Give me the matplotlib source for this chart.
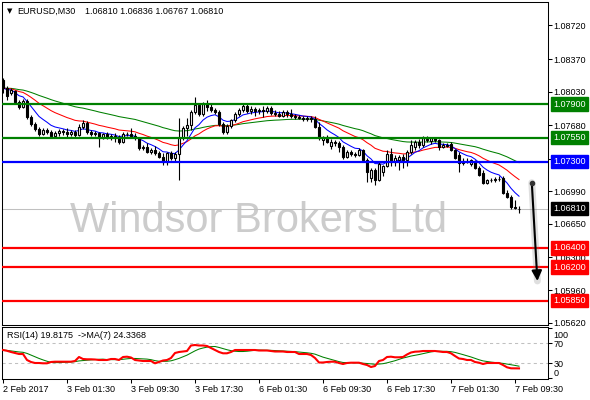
import numpy as np
import pandas as pd
import matplotlib
matplotlib.use('Agg')
import matplotlib.pyplot as plt
import matplotlib.transforms as mtransforms

plt.rcParams['font.family'] = ['Liberation Sans', 'DejaVu Sans']

FONT_SIZE = 6.5
W, H = 590, 400

# EURUSD M30 candles, 2 Feb 2017 17:30 -> 7 Feb 2017 10:00
open_ = [1.08152, 1.08068, 1.08016, 1.08037, 1.07922, 1.07870, 1.07933, 1.07766, 1.07693, 1.07641,
         1.07588, 1.07630, 1.07609, 1.07568, 1.07599, 1.07620, 1.07609, 1.07588, 1.07609, 1.07578,
         1.07662, 1.07703, 1.07609, 1.07588, 1.07599, 1.07547, 1.07588, 1.07557, 1.07568, 1.07547,
         1.07505, 1.07588, 1.07588, 1.07568, 1.07547, 1.07442, 1.07453, 1.07401, 1.07421, 1.07390,
         1.07348, 1.07296, 1.07390, 1.07338, 1.07380, 1.07547, 1.07651, 1.07682, 1.07818, 1.07891,
         1.07797, 1.07901, 1.07870, 1.07839, 1.07818, 1.07693, 1.07609, 1.07672, 1.07735, 1.07797,
         1.07839, 1.07880, 1.07828, 1.07849, 1.07828, 1.07839, 1.07828, 1.07860, 1.07807, 1.07797,
         1.07776, 1.07818, 1.07797, 1.07776, 1.07766, 1.07755, 1.07745, 1.07755, 1.07745, 1.07662,
         1.07526, 1.07557, 1.07463, 1.07505, 1.07495, 1.07453, 1.07348, 1.07401, 1.07380, 1.07369,
         1.07421, 1.07317, 1.07130, 1.07213, 1.07109, 1.07192, 1.07254, 1.07380, 1.07296, 1.07317,
         1.07348, 1.07317, 1.07401, 1.07453, 1.07505, 1.07474, 1.07536, 1.07515, 1.07547, 1.07526,
         1.07453, 1.07474, 1.07484, 1.07421, 1.07369, 1.07286, 1.07307, 1.07275, 1.07296, 1.07234,
         1.07181, 1.07077, 1.07109, 1.07109, 1.07119, 1.07130, 1.06973, 1.06931, 1.06827, 1.06810]
high = [1.08172, 1.08089, 1.08068, 1.08047, 1.07943, 1.07953, 1.07953, 1.07787, 1.07714, 1.07662,
        1.07651, 1.07651, 1.07630, 1.07620, 1.07641, 1.07641, 1.07651, 1.07630, 1.07630, 1.07693,
        1.07735, 1.07724, 1.07630, 1.07620, 1.07609, 1.07599, 1.07609, 1.07588, 1.07599, 1.07578,
        1.07609, 1.07609, 1.07651, 1.07599, 1.07557, 1.07474, 1.07495, 1.07442, 1.07463, 1.07411,
        1.07390, 1.07401, 1.07411, 1.07401, 1.07755, 1.07672, 1.07755, 1.07839, 1.07974, 1.07912,
        1.07922, 1.07943, 1.07901, 1.07860, 1.07839, 1.07714, 1.07693, 1.07745, 1.07818, 1.07860,
        1.07912, 1.07901, 1.07880, 1.07870, 1.07860, 1.07880, 1.07880, 1.07880, 1.07839, 1.07828,
        1.07839, 1.07839, 1.07849, 1.07797, 1.07787, 1.07776, 1.07776, 1.07776, 1.07776, 1.07714,
        1.07568, 1.07578, 1.07536, 1.07526, 1.07515, 1.07474, 1.07421, 1.07421, 1.07401, 1.07442,
        1.07432, 1.07338, 1.07234, 1.07234, 1.07296, 1.07265, 1.07421, 1.07442, 1.07369, 1.07369,
        1.07380, 1.07421, 1.07526, 1.07526, 1.07536, 1.07568, 1.07568, 1.07557, 1.07557, 1.07536,
        1.07495, 1.07495, 1.07505, 1.07432, 1.07401, 1.07338, 1.07338, 1.07327, 1.07317, 1.07254,
        1.07213, 1.07119, 1.07130, 1.07140, 1.07150, 1.07150, 1.07004, 1.06952, 1.06900, 1.06836]
low = [1.08016, 1.07943, 1.07995, 1.07901, 1.07849, 1.07860, 1.07745, 1.07672, 1.07620, 1.07568,
       1.07578, 1.07588, 1.07547, 1.07557, 1.07568, 1.07578, 1.07557, 1.07568, 1.07557, 1.07568,
       1.07641, 1.07588, 1.07568, 1.07568, 1.07453, 1.07536, 1.07536, 1.07526, 1.07505, 1.07484,
       1.07495, 1.07568, 1.07547, 1.07526, 1.07421, 1.07421, 1.07390, 1.07380, 1.07369, 1.07338,
       1.07265, 1.07265, 1.07317, 1.07296, 1.07109, 1.07526, 1.07568, 1.07630, 1.07797, 1.07776,
       1.07776, 1.07828, 1.07818, 1.07797, 1.07672, 1.07588, 1.07588, 1.07651, 1.07714, 1.07776,
       1.07818, 1.07807, 1.07797, 1.07776, 1.07797, 1.07766, 1.07807, 1.07787, 1.07776, 1.07766,
       1.07766, 1.07766, 1.07755, 1.07745, 1.07745, 1.07724, 1.07724, 1.07714, 1.07651, 1.07526,
       1.07474, 1.07495, 1.07432, 1.07463, 1.07401, 1.07327, 1.07338, 1.07359, 1.07348, 1.07359,
       1.07307, 1.07088, 1.07088, 1.07056, 1.07098, 1.07150, 1.07244, 1.07254, 1.07254, 1.07213,
       1.07234, 1.07254, 1.07380, 1.07421, 1.07442, 1.07453, 1.07505, 1.07484, 1.07505, 1.07421,
       1.07442, 1.07453, 1.07411, 1.07327, 1.07192, 1.07265, 1.07286, 1.07254, 1.07223, 1.07150,
       1.07067, 1.07067, 1.07088, 1.07088, 1.07098, 1.06963, 1.06921, 1.06806, 1.06806, 1.06767]
close = [1.08068, 1.07985, 1.08047, 1.07922, 1.07870, 1.07933, 1.07766, 1.07693, 1.07641, 1.07588,
         1.07630, 1.07609, 1.07568, 1.07599, 1.07620, 1.07609, 1.07588, 1.07609, 1.07578, 1.07662,
         1.07703, 1.07609, 1.07588, 1.07599, 1.07547, 1.07588, 1.07557, 1.07568, 1.07547, 1.07505,
         1.07588, 1.07588, 1.07568, 1.07547, 1.07442, 1.07453, 1.07401, 1.07421, 1.07390, 1.07348,
         1.07296, 1.07390, 1.07338, 1.07380, 1.07547, 1.07651, 1.07682, 1.07818, 1.07891, 1.07797,
         1.07901, 1.07870, 1.07839, 1.07818, 1.07693, 1.07609, 1.07672, 1.07735, 1.07797, 1.07839,
         1.07880, 1.07828, 1.07849, 1.07828, 1.07839, 1.07828, 1.07860, 1.07807, 1.07797, 1.07776,
         1.07818, 1.07797, 1.07776, 1.07766, 1.07755, 1.07745, 1.07755, 1.07745, 1.07662, 1.07547,
         1.07557, 1.07505, 1.07505, 1.07495, 1.07453, 1.07348, 1.07401, 1.07380, 1.07369, 1.07421,
         1.07317, 1.07192, 1.07213, 1.07109, 1.07275, 1.07254, 1.07380, 1.07296, 1.07338, 1.07348,
         1.07317, 1.07401, 1.07474, 1.07505, 1.07474, 1.07547, 1.07526, 1.07547, 1.07526, 1.07453,
         1.07474, 1.07463, 1.07421, 1.07338, 1.07286, 1.07307, 1.07296, 1.07317, 1.07234, 1.07161,
         1.07077, 1.07109, 1.07109, 1.07119, 1.07119, 1.06973, 1.06931, 1.06827, 1.06817, 1.06810]

# RSI(14)
rsi = [56.6, 55.0, 52.6, 50.6, 48.6, 48.6, 36.6, 32.6, 30.6, 30.6,
       30.0, 30.0, 32.6, 33.2, 33.2, 33.2, 33.2, 33.2, 34.6, 42.6,
       38.6, 38.0, 38.0, 37.6, 36.6, 36.6, 36.6, 38.6, 38.6, 36.6,
       42.6, 43.2, 41.6, 36.6, 35.6, 34.6, 34.6, 34.6, 30.0, 32.6,
       35.6, 36.6, 40.6, 50.6, 52.6, 53.6, 54.6, 65.6, 66.6, 65.6,
       65.6, 64.6, 60.6, 56.6, 52.6, 50.0, 50.0, 52.6, 56.6, 56.6,
       56.6, 56.6, 56.6, 56.6, 55.6, 55.6, 55.6, 54.6, 53.6, 53.6,
       53.6, 52.6, 52.6, 52.6, 48.6, 48.6, 48.6, 46.6, 40.6, 31.6,
       31.6, 32.6, 33.2, 33.2, 30.6, 28.6, 30.6, 31.2, 31.2, 31.2,
       28.6, 26.6, 22.6, 24.6, 34.6, 36.6, 42.6, 43.2, 42.0, 42.0,
       42.6, 47.6, 51.6, 53.2, 53.6, 54.6, 54.6, 54.6, 54.6, 53.6,
       52.6, 52.6, 50.0, 44.6, 39.6, 38.6, 36.6, 36.6, 32.6, 31.2,
       28.6, 30.6, 30.6, 30.6, 30.6, 26.6, 22.0, 20.0, 20.0, 19.8175]

time_ticks = [0, 16, 32, 48, 64, 80, 96, 112, 128]
time_labels = ['2 Feb 2017', '3 Feb 01:30', '3 Feb 09:30', '3 Feb 17:30', '6 Feb 01:30',
               '6 Feb 09:30', '6 Feb 17:30', '7 Feb 01:30', '7 Feb 09:30']
price_ticks = [1.08720, 1.08370, 1.08030, 1.07680, 1.07330, 1.06990, 1.06650, 1.06300, 1.05960, 1.05620]

levels = [1.07900, 1.07550, 1.07300, 1.06400, 1.06200, 1.05850]
level_colors = ['#008000', '#008000', '#0000ff', '#ff0000', '#ff0000', '#ff0000']

arrow_start = (132.2, 1.07080)
arrow_end = (133.6, 1.06055)

o = np.array(open_)
h = np.array(high)
l = np.array(low)
c = np.array(close)
x = np.arange(len(c))

cs = pd.Series(c)
ma_fast = cs.ewm(span=8, adjust=False).mean()
ma_mid = cs.ewm(span=21, adjust=False).mean()
ma_slow = cs.ewm(span=50, adjust=False).mean()
rsi_ma = pd.Series(rsi).rolling(7, min_periods=1).mean()


def px_box(left, top, right, bottom):
    return [left / W, 1 - bottom / H, (right - left) / W, (bottom - top) / H]


fig = plt.figure(figsize=(W / 100, H / 100), dpi=100)
fig.patch.set_facecolor('white')
ax = fig.add_axes(px_box(2, 2, 548, 324.5))
rsi_ax = fig.add_axes(px_box(2, 327, 548, 379))

for a in (ax, rsi_ax):
    for s in a.spines.values():
        s.set_linewidth(0.75)
        s.set_color('black')
    a.set_xlim(-0.25, 136.25)

# main price window
ax.set_ylim(1.05601, 1.08965)
ax.text(258.5 / W, 1 - 232 / H, 'Windsor Brokers Ltd', transform=fig.transFigure,
        fontsize=30, color='#cccccc', ha='center', va='baseline', zorder=0.5)
ax.axhline(c[-1], color='#c0c0c0', lw=0.75, zorder=1)

ax.plot(x, ma_slow, color='#008000', lw=0.75, zorder=2)
ax.plot(x, ma_mid, color='#ff0000', lw=0.75, zorder=2)
ax.plot(x, ma_fast, color='#0000ff', lw=0.75, zorder=2)

up = c >= o
ax.vlines(x, l, h, color='black', lw=0.8, zorder=3)
ax.bar(x, c - o, bottom=o, width=0.65, color=np.where(up, 'white', 'black'),
       edgecolor='black', linewidth=0.8, zorder=4)

for lev, col in zip(levels, level_colors):
    ax.axhline(lev, color=col, lw=1.6, zorder=5)

ax.yaxis.tick_right()
ax.set_yticks(price_ticks)
ax.set_yticklabels([f'{p:.5f}' for p in price_ticks], fontsize=FONT_SIZE)
ax.tick_params(axis='y', direction='out', length=3, width=0.75, pad=1)
ax.set_xticks([])

lab_tr = mtransforms.blended_transform_factory(ax.transAxes, ax.transData)
for lev, col in zip(levels + [c[-1]], level_colors + ['black']):
    ax.text(1.0097, lev, f'{lev:.5f}', transform=lab_tr, color='white', fontsize=FONT_SIZE,
            ha='left', va='center', clip_on=False, zorder=10,
            bbox=dict(boxstyle='square,pad=0.25', fc=col, ec=col))

# arrow with soft shadow
ax.plot([arrow_start[0], arrow_end[0]], [arrow_start[1], arrow_end[1]],
        color='grey', lw=5, alpha=0.25, solid_capstyle='round', zorder=6)
ax.annotate('', xy=arrow_end, xytext=arrow_start, annotation_clip=False,
            arrowprops=dict(arrowstyle='-|>,head_length=0.6,head_width=0.3', color='black',
                            lw=1.5, shrinkA=0, shrinkB=0), zorder=7)
ax.plot(*arrow_start, 'o', ms=3, color='#333333', zorder=7)

fig.text(7 / W, 1 - 11 / H, '\u25bc', fontsize=5, family='DejaVu Sans', va='center')
fig.text(17 / W, 1 - 11 / H, 'EURUSD,M30', fontsize=FONT_SIZE, va='center')
fig.text(85 / W, 1 - 11 / H, '1.06810 1.06836 1.06767 1.06810', fontsize=FONT_SIZE, va='center')

# RSI window
rsi_ax.set_ylim(-1.4, 102.6)
for lv in (70, 30):
    rsi_ax.axhline(lv, color='#c0c0c0', lw=0.75, ls=(0, (3, 3)), zorder=1)
rsi_ax.plot(x, rsi_ma, color='#008000', lw=0.75, zorder=2)
rsi_ax.plot(x, rsi, color='#ff0000', lw=1.5, zorder=3)

rsi_ax.yaxis.tick_right()
rsi_ax.set_yticks([100, 70, 30, 0])
rsi_ax.set_yticklabels(['100', '70', '30', '0'], fontsize=FONT_SIZE)
rsi_ax.tick_params(axis='y', direction='out', length=3, width=0.75, pad=1)
ylabs = rsi_ax.get_yticklabels()
ylabs[0].set_transform(ylabs[0].get_transform() + mtransforms.ScaledTranslation(0, -0.057, fig.dpi_scale_trans))
ylabs[3].set_transform(ylabs[3].get_transform() + mtransforms.ScaledTranslation(0, 0.06, fig.dpi_scale_trans))

rsi_ax.set_xticks(time_ticks)
rsi_ax.set_xticklabels(time_labels, fontsize=FONT_SIZE, ha='left')
rsi_ax.tick_params(axis='x', direction='out', length=3, width=0.75, pad=1.5)

fig.text(7 / W, 1 - 336 / H, 'RSI(14) 19.8175  ->MA(7) 24.3368', fontsize=FONT_SIZE, va='center')

plt.savefig('out.png', dpi=100)
